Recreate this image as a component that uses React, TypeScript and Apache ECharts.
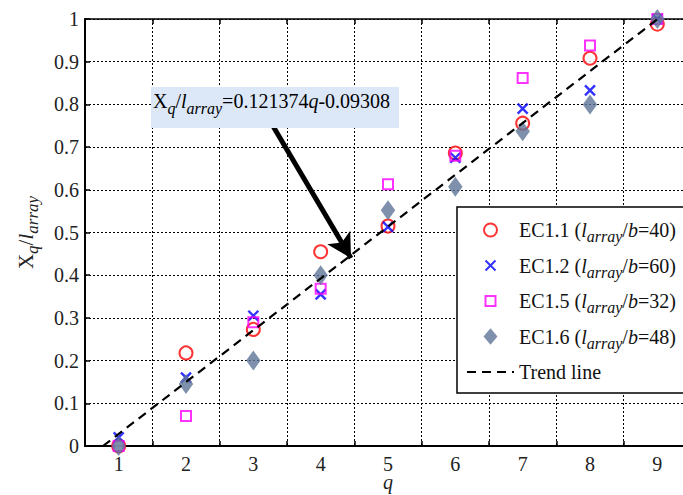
import React, { useEffect, useRef } from "react";
import * as echarts from "echarts";

const qValues = [1, 2, 3, 4, 5, 6, 7, 8, 9];
const ec11 = [0, 0.218, 0.273, 0.455, 0.515, 0.686, 0.756, 0.908, 0.988];
const ec12 = [0.02, 0.16, 0.305, 0.355, 0.513, 0.675, 0.79, 0.833, 1.0];
const ec15 = [0, 0.07, 0.29, 0.368, 0.613, 0.68, 0.862, 0.938, 1.0];
const ec16 = [0, 0.145, 0.2, 0.4, 0.552, 0.607, 0.737, 0.8, 1.0];
const trendStart = [0.767, 0];
const trendEnd = [9, 0.9993];
const arrowFrom = [3.3, 0.747];
const arrowTo = [4.45, 0.44];
const legendSuffix = ["40", "60", "32", "48"];
const seriesNames = ["EC1.1", "EC1.2", "EC1.5", "EC1.6", "Trend line"];

const FONT = "Liberation Serif";

const SYM_X = "path://M0,0L10,10M10,0L0,10";
const SYM_SQ = "path://M0,0L10,0L10,10L0,10Z";
const SYM_DM = "path://M85,0L170,100L85,200L0,100Z";
// legend icons: same shapes with invisible move-to points that pad their bounds
const ICON_CIRCLE = "path://M-2.5,-2.5M15.5,15.5M13,6.5A6.5,6.5 0 1 1 0,6.5A6.5,6.5 0 1 1 13,6.5Z";
const ICON_X = "path://M-4,-4M14,14M0,0L10,10M10,0L0,10";
const ICON_SQ = "path://M-4,-4M14,14M0,0L10,0L10,10L0,10Z";
const ICON_DM = "path://M85,-10M85,210M85,0L170,100L85,200L0,100Z";

const rich = {
  n: { fontFamily: FONT, fontSize: 20, color: "#111" },
  i: { fontFamily: FONT, fontSize: 20, fontStyle: "italic", color: "#111" },
  s: { fontFamily: FONT, fontSize: 16, fontStyle: "italic", color: "#111", verticalAlign: "bottom", padding: [13, 0, 0, 0] },
};

export default function App() {
  const ref = useRef<HTMLDivElement>(null);
  useEffect(() => {
    if (!ref.current) return;
    const chart = echarts.init(ref.current, null, { renderer: "svg" });
    const pts = (ys: number[]) => qValues.map((q, k) => [q, ys[k]]);
    const option = {
      animation: false,
      backgroundColor: "#fff",
      grid: { left: 85, top: 19, bottom: 49, right: -8, outerBoundsMode: "none", containLabel: false },
      xAxis: [
        {
          type: "value",
          min: 0.5,
          max: 9.5,
          interval: 1,
          name: "q",
          nameLocation: "middle",
          nameGap: 26,
          nameMoveOverlap: false,
          nameTextStyle: { fontFamily: FONT, fontSize: 20, fontStyle: "italic", color: "#222" },
          axisLine: { show: true, onZero: false, lineStyle: { color: "#000", width: 2 } },
          axisTick: { show: true, inside: true, length: 5, lineStyle: { color: "#000", width: 1.5 } },
          axisLabel: {
            show: true,
            customValues: qValues,
            hideOverlap: false,
            margin: 8,
            fontFamily: FONT,
            fontSize: 20,
            color: "#222",
          },
          splitLine: { show: true, lineStyle: { color: "#000", width: 1, type: [2, 2] } },
        },
        {
          type: "value",
          position: "top",
          min: 0.5,
          max: 9.5,
          interval: 1,
          axisLine: { show: true, onZero: false, lineStyle: { color: "#000", width: 1.5 } },
          axisTick: { show: true, inside: true, length: 5, lineStyle: { color: "#000", width: 1.5 } },
          axisLabel: { show: false },
          splitLine: { show: false },
        },
      ],
      yAxis: {
        type: "value",
        min: 0,
        max: 1,
        interval: 0.1,
        name: "{x|X}{s|q}{n|/}{i|l}{s|array}",
        nameLocation: "middle",
        nameRotate: 90,
        nameGap: 44,
        nameMoveOverlap: false,
        nameTextStyle: {
          rich: {
            x: { fontFamily: FONT, fontSize: 21, color: "#222" },
            n: { fontFamily: FONT, fontSize: 21, color: "#222" },
            i: { fontFamily: FONT, fontSize: 21, fontStyle: "italic", color: "#222" },
            s: { fontFamily: FONT, fontSize: 17, fontStyle: "italic", color: "#222", verticalAlign: "bottom", padding: [13, 0, 0, 0] },
          },
        },
        axisLine: { show: true, onZero: false, lineStyle: { color: "#000", width: 2 } },
        axisTick: { show: true, inside: true, length: 5, lineStyle: { color: "#000", width: 1.5 } },
        axisLabel: { margin: 6, fontFamily: FONT, fontSize: 20, color: "#222" },
        splitLine: { show: true, lineStyle: { color: "#000", width: 1, type: [2, 2] } },
      },
      legend: {
        orient: "vertical",
        left: 457,
        top: 207,
        data: [
          { name: seriesNames[0], icon: ICON_CIRCLE, itemStyle: { color: "rgba(255,255,255,0)", borderColor: "#ff0000", borderWidth: 2 } },
          { name: seriesNames[1], icon: ICON_X },
          { name: seriesNames[2], icon: ICON_SQ },
          { name: seriesNames[3], icon: ICON_DM },
          { name: seriesNames[4], itemStyle: { color: "rgba(0,0,0,0)", opacity: 0, borderWidth: 0 } },
        ],
        itemWidth: 47,
        itemHeight: 18,
        itemGap: 11,
        padding: [13, 40, 11, 9],
        symbolKeepAspect: true,
        backgroundColor: "#fff",
        borderColor: "#000",
        borderWidth: 1.5,
        borderRadius: 0,
        formatter: (name: string) => {
          const k = seriesNames.indexOf(name);
          if (k < 4) return `{n|${name} (}{i|l}{s|array}{n|/}{i|b}{n|=${legendSuffix[k]})}`;
          return `{n|${name}}`;
        },
        textStyle: { rich },
      },
      series: [
        {
          name: seriesNames[0],
          type: "scatter",
          data: pts(ec11),
          symbol: "emptyCircle",
          symbolSize: 13,
          symbolKeepAspect: true,
          z: 3,
          itemStyle: { color: "#ff0000", borderColor: "#ff0000", borderWidth: 2 },
        },
        {
          name: seriesNames[1],
          type: "scatter",
          data: pts(ec12),
          symbol: SYM_X,
          symbolSize: 10,
          symbolKeepAspect: true,
          z: 4,
          itemStyle: { color: "#0000ff", borderColor: "#0000ff", borderWidth: 2.4 },
        },
        {
          name: seriesNames[2],
          type: "scatter",
          data: pts(ec15),
          symbol: SYM_SQ,
          symbolSize: 10,
          symbolKeepAspect: true,
          z: 5,
          itemStyle: { color: "rgba(255,255,255,0)", borderColor: "#ff00ff", borderWidth: 2 },
        },
        {
          name: seriesNames[3],
          type: "scatter",
          data: pts(ec16),
          symbol: SYM_DM,
          symbolSize: [17, 20],
          symbolKeepAspect: true,
          z: 6,
          itemStyle: { color: "#5f7499" },
        },
        {
          name: seriesNames[4],
          type: "line",
          data: [trendStart, trendEnd],
          symbol: "none",
          z: 7,
          lineStyle: { color: "#000", width: 2.2, type: [9, 6] },
          itemStyle: { color: "#000" },
          markLine: {
            silent: true,
            symbol: ["none", "arrow"],
            symbolSize: [20, 24],
            label: { show: false },
            lineStyle: { color: "#000", width: 5, type: "solid" },
            data: [[{ coord: arrowFrom }, { coord: arrowTo }]],
          },
        },
      ],
      graphic: [
        {
          type: "rect",
          left: 151,
          top: 87,
          shape: { width: 248, height: 41 },
          style: { fill: "#dce8f8" },
          z: 10,
        },
        {
          type: "text",
          left: 153,
          top: 91,
          z: 11,
          style: {
            text: "{x|X}{s|q}{n|/}{i|l}{s|array}{n|=0.121374}{i|q}{n|-0.09308}",
            rich: {
              x: { fontFamily: FONT, fontSize: 20, color: "#111" },
              n: { fontFamily: FONT, fontSize: 20, color: "#111" },
              i: { fontFamily: FONT, fontSize: 20, fontStyle: "italic", color: "#111" },
              s: { fontFamily: FONT, fontSize: 16, fontStyle: "italic", color: "#111", verticalAlign: "bottom", padding: [14, 0, 0, 0] },
            },
          },
        },
      ],
    };
    chart.setOption(option as any);
    return () => chart.dispose();
  }, []);
  return (
    <div
      ref={ref}
      style={{ position: "fixed", left: 0, top: 0, width: 683, height: 495, background: "#fff" }}
    />
  );
}
